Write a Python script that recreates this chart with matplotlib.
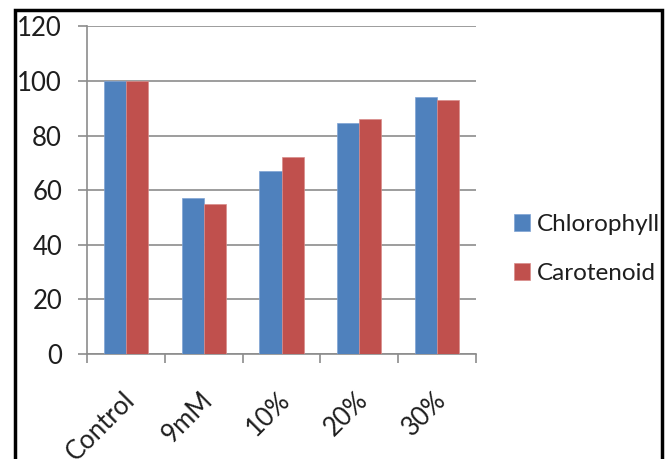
import matplotlib
matplotlib.use("Agg")
import matplotlib.pyplot as plt
from matplotlib.patches import Rectangle
from matplotlib.transforms import ScaledTranslation
import numpy as np

categories = ["Control", "9mM", "10%", "20%", "30%"]
chlorophyll = [100, 57, 67, 84.5, 94]
carotenoid = [100, 55, 72, 86, 93]
series_names = ["Chlorophyll", "Carotenoid"]
yticks = [0, 20, 40, 60, 80, 100, 120]

plt.rcParams['font.family'] = ['Lato', 'DejaVu Sans']

W, H = 665, 459
fig = plt.figure(figsize=(W / 100, H / 100), dpi=100)
ax = fig.add_axes([87 / W, 1 - 354 / H, (476 - 87) / W, (354 - 26.4) / H])

blue = "#4F81BD"
red = "#C0504D"
txt = "#1e1e1e"
x = np.arange(len(categories))
bw = 0.285
ax.bar(x - bw / 2, chlorophyll, bw, color=blue, edgecolor="#7EA3D4", linewidth=0.5, label=series_names[0], zorder=3)
ax.bar(x + bw / 2, carotenoid, bw, color=red, edgecolor="#D98C8A", linewidth=0.5, label=series_names[1], zorder=3)

ax.set_xlim(-0.5, len(categories) - 0.5)
ax.set_ylim(0, 120)
ax.set_yticks(yticks)
ax.set_yticklabels([str(v) for v in yticks])
ax.yaxis.grid(True, color="#8C8C8C", linewidth=1.2, zorder=0)
ax.set_axisbelow(True)

for s in ["top", "right"]:
    ax.spines[s].set_visible(False)
for s in ["left", "bottom"]:
    ax.spines[s].set_color("#8C8C8C")
    ax.spines[s].set_linewidth(1.2)

ax.tick_params(axis="y", length=6.5, width=1.2, color="#8C8C8C", pad=11.5, labelsize=18.5, labelcolor=txt)
# major ticks at category boundaries, labels on minor ticks at centers
ax.set_xticks(np.arange(-0.5, len(categories), 1.0))
ax.set_xticklabels([])
ax.tick_params(axis="x", which="major", length=6.5, width=1.2, color="#8C8C8C")
ax.set_xticks(x, minor=True)
ax.set_xticklabels(categories, minor=True, rotation=45, ha="right", va="top",
                   rotation_mode="anchor", fontsize=18.5, color=txt)
ax.tick_params(axis="x", which="minor", length=0, pad=24)
offset = ScaledTranslation(-4 / 100, 0, fig.dpi_scale_trans)
for lbl in ax.get_xticklabels(minor=True):
    lbl.set_transform(lbl.get_transform() + offset)

leg = fig.legend(loc="center left", bbox_to_anchor=(492 / W, 1 - 249 / H), frameon=False,
                 fontsize=17.5, handlelength=0.65, handleheight=0.65, handletextpad=0.3,
                 labelspacing=1.15)
for t in leg.get_texts():
    t.set_color(txt)

# figure border
fig.patches.append(Rectangle((15 / W, -0.2), (662 - 15) / W, 1.2 - 10 / H, transform=fig.transFigure,
                             fill=False, edgecolor="black", linewidth=2.5))

fig.savefig("out.png", dpi=100)
